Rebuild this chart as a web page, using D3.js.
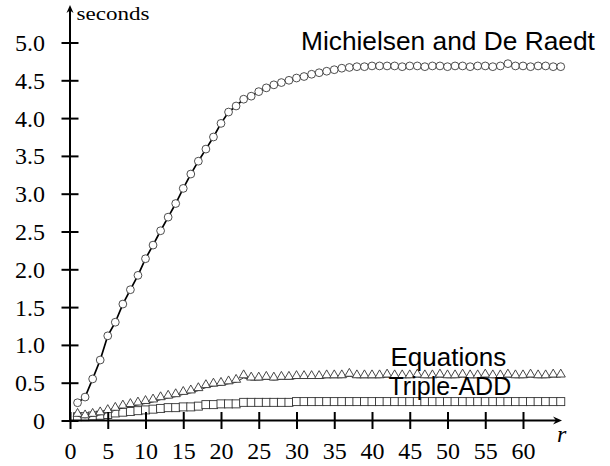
<!DOCTYPE html>
<html>
<head>
<meta charset="utf-8">
<script src="https://cdn.jsdelivr.net/npm/d3@7"></script>
<style>
  body { margin: 0; background: #fff; }
  svg { display: block; }
</style>
</head>
<body>
<div id="chart"></div>
<script>
//Data
var rValues = d3.range(1, 66);
var michielsen = [0.235, 0.31, 0.55, 0.80, 1.12, 1.30, 1.54, 1.73, 1.92, 2.14,
    2.32, 2.51, 2.69, 2.87, 3.07, 3.26, 3.43, 3.59, 3.75, 3.93,
    4.08, 4.16, 4.25, 4.29, 4.35, 4.40, 4.44, 4.47, 4.50, 4.53,
    4.55, 4.58, 4.60, 4.62, 4.64, 4.66, 4.67, 4.68, 4.68, 4.69,
    4.69, 4.69, 4.69, 4.68, 4.69, 4.69, 4.68, 4.69, 4.69, 4.68,
    4.69, 4.69, 4.68, 4.69, 4.69, 4.68, 4.69, 4.72, 4.69, 4.69,
    4.68, 4.69, 4.69, 4.68, 4.68];
var equations = [0.09, 0.07, 0.09, 0.11, 0.14, 0.17, 0.20, 0.22, 0.24, 0.26,
    0.28, 0.31, 0.33, 0.35, 0.38, 0.40, 0.43, 0.47, 0.49, 0.50,
    0.52, 0.54, 0.60, 0.57, 0.57, 0.58, 0.57, 0.58, 0.58, 0.59,
    0.59, 0.59, 0.59, 0.60, 0.60, 0.60, 0.62, 0.60, 0.60, 0.60,
    0.60, 0.61, 0.60, 0.60, 0.60, 0.61, 0.60, 0.60, 0.61, 0.60,
    0.60, 0.61, 0.60, 0.60, 0.61, 0.60, 0.60, 0.61, 0.60, 0.60,
    0.61, 0.60, 0.60, 0.61, 0.61];
var tripleAdd = [0.05, 0.05, 0.06, 0.07, 0.08, 0.10, 0.11, 0.12, 0.13, 0.14,
    0.15, 0.16, 0.17, 0.17, 0.18, 0.18, 0.19, 0.21, 0.21, 0.22,
    0.22, 0.22, 0.24, 0.24, 0.24, 0.24, 0.24, 0.24, 0.24, 0.25,
    0.25, 0.25, 0.25, 0.25, 0.25, 0.25, 0.25, 0.25, 0.25, 0.25,
    0.25, 0.25, 0.25, 0.25, 0.25, 0.25, 0.25, 0.25, 0.25, 0.25,
    0.25, 0.25, 0.25, 0.25, 0.25, 0.25, 0.25, 0.25, 0.25, 0.25,
    0.25, 0.25, 0.25, 0.25, 0.25];
var xTicks = [0, 5, 10, 15, 20, 25, 30, 35, 40, 45, 50, 55, 60];
var yTicks = [0, 0.5, 1.0, 1.5, 2.0, 2.5, 3.0, 3.5, 4.0, 4.5, 5.0];

//Setup
var width = 610, height = 466;
var x = d3.scaleLinear().domain([0, 65]).range([70, 560.75]);
var y = d3.scaleLinear().domain([0, 5]).range([420.5, 42.5]);
var serif = "Liberation Serif";
var sans = "Liberation Sans";

var svg = d3.select("#chart").append("svg")
    .attr("width", width)
    .attr("height", height);

//Series
function toPoints(vals) {
    return vals.map((v, i) => ({ r: rValues[i], v: v }));
}
var line = d3.line().x(d => x(d.r)).y(d => y(d.v));

// Triple-ADD (squares)
var sqData = toPoints(tripleAdd);
svg.append("path").attr("d", line(sqData))
    .attr("fill", "none").attr("stroke", "#000").attr("stroke-width", 1);
svg.append("g").selectAll("rect").data(sqData).join("rect")
    .attr("x", d => x(d.r) - 4).attr("y", d => y(d.v) - 4)
    .attr("width", 8).attr("height", 8)
    .attr("fill", "#fff").attr("stroke", "#333").attr("stroke-width", 0.9);

// Equations (triangles), connecting line runs along the triangle bases
var triData = toPoints(equations);
svg.append("path").attr("d", line(triData))
    .attr("transform", "translate(0,2.6)")
    .attr("fill", "none").attr("stroke", "#222").attr("stroke-width", 0.9);
var tri = d3.symbol().type(d3.symbolTriangle).size(36);
svg.append("g").selectAll("path").data(triData).join("path")
    .attr("d", tri)
    .attr("transform", d => `translate(${x(d.r)},${y(d.v)})`)
    .attr("fill", "#fff").attr("stroke", "#333").attr("stroke-width", 0.9);

// Michielsen and De Raedt (circles)
var circData = toPoints(michielsen);
svg.append("path").attr("d", line(circData))
    .attr("fill", "none").attr("stroke", "#000").attr("stroke-width", 1.7);
svg.append("g").selectAll("circle").data(circData).join("circle")
    .attr("cx", d => x(d.r)).attr("cy", d => y(d.v)).attr("r", 3.9)
    .attr("fill", "#fff").attr("stroke", "#222").attr("stroke-width", 0.8);

//Axes
var yAxis = svg.append("g")
    .attr("transform", `translate(${x(0)},0)`)
    .call(d3.axisLeft(y).tickValues(yTicks).tickSize(8.5)
        .tickFormat(d => d === 0 ? "0" : d3.format(".1f")(d)))
    .attr("font-family", serif).attr("font-size", 24);
yAxis.select(".domain").remove();
yAxis.selectAll(".tick line").attr("x1", -8.5).attr("x2", 8.5)
    .attr("stroke-width", 2);
yAxis.selectAll(".tick text")
    .attr("x", -25).attr("dy", "0.33em").attr("fill", "#000");

var xAxis = svg.append("g")
    .attr("transform", `translate(0,${y(0)})`)
    .call(d3.axisBottom(x).tickValues(xTicks).tickSize(8.5).tickFormat(d3.format("d")))
    .attr("font-family", serif).attr("font-size", 24);
xAxis.select(".domain").remove();
xAxis.selectAll(".tick line").attr("y1", -8.5).attr("y2", 8.5)
    .attr("stroke-width", 2);
xAxis.selectAll(".tick text")
    .attr("y", 38.5).attr("dy", 0).attr("fill", "#000");

// axis lines with arrow heads
var x0 = x(0), y0 = y(0), xEnd = 562, yEnd = 5;
svg.append("line").attr("x1", x0).attr("y1", y0).attr("x2", xEnd - 4).attr("y2", y0)
    .attr("stroke", "#000").attr("stroke-width", 2);
svg.append("line").attr("x1", x0).attr("y1", y0 + 1).attr("x2", x0).attr("y2", yEnd + 4)
    .attr("stroke", "#000").attr("stroke-width", 2);
svg.append("path")
    .attr("d", `M${xEnd},${y0} L${xEnd - 9},${y0 - 4} L${xEnd - 6},${y0} L${xEnd - 9},${y0 + 4} Z`)
    .attr("fill", "#000");
svg.append("path")
    .attr("d", `M${x0},${yEnd} L${x0 - 3.5},${yEnd + 8} L${x0},${yEnd + 5.5} L${x0 + 3.5},${yEnd + 8} Z`)
    .attr("fill", "#000");

// axis titles
svg.append("text").attr("x", 76.5).attr("y", 20)
    .attr("textLength", 73).attr("lengthAdjust", "spacingAndGlyphs")
    .attr("font-family", serif).attr("font-size", 18).text("seconds");
svg.append("text").attr("x", 557).attr("y", 442)
    .attr("font-family", serif).attr("font-size", 24).attr("font-style", "italic")
    .text("r");

//Series labels
svg.append("text").attr("x", 301).attr("y", 50)
    .attr("font-family", sans).attr("font-size", 26.3).text("Michielsen and De Raedt");
svg.append("text").attr("x", 390.5).attr("y", 365.5)
    .attr("font-family", sans).attr("font-size", 26).text("Equations");
svg.append("text").attr("x", 388.5).attr("y", 394.5)
    .attr("font-family", sans).attr("font-size", 25).text("Triple-ADD");
</script>
</body>
</html>
